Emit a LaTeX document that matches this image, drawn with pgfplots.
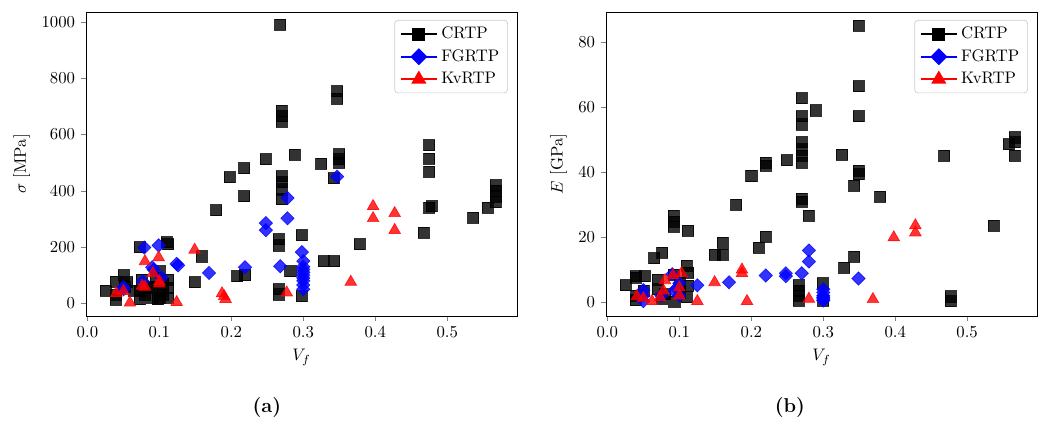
\documentclass[border=0pt]{standalone}
\usepackage{pgfplots}
\pgfplotsset{compat=1.18}
\usetikzlibrary{plotmarks}

\pgfplotsset{
  panel/.style={
    scale only axis, width=9.056cm, height=6.388cm,
    xmin=-0.002, xmax=0.597,
    xtick={0,0.1,0.2,0.3,0.4,0.5},
    xticklabel style={/pgf/number format/fixed, /pgf/number format/fixed zerofill, /pgf/number format/precision=1},
    yticklabel style={/pgf/number format/1000 sep={}},
    tick align=outside, tick pos=left, major tick length=3pt,
    xlabel={$V_f$},
    legend cell align=left,
    legend style={at={(0.979,0.974)}, anchor=north east, draw=black!20, rounded corners=2pt,
      font=\normalsize, row sep=1pt},
    legend image code/.code={\draw[mark repeat=2,mark phase=2,#1] plot coordinates {(0cm,0cm) (0.38cm,0cm) (0.76cm,0cm)};},
  },
  crtp/.style={only marks, mark=square*, mark size=3.3pt, draw=black, fill=black,
    mark options={opacity=0.8}, forget plot},
  fgrtp/.style={only marks, mark=square*, mark size=2.8pt, draw=blue, fill=blue,
    mark options={rotate=45, opacity=0.8}, forget plot},
  kvrtp/.style={only marks, mark=triangle*, mark size=4pt, draw=red, fill=red,
    mark options={opacity=0.8}, forget plot},
}

\begin{document}
\begin{tikzpicture}
% (a) strength
\begin{axis}[panel, name=A, ymin=-45, ymax=1035, ytick={0,200,400,600,800,1000},
  ylabel={$\sigma$ [MPa]}]
\addplot[crtp] coordinates {
(0.025,46) (0.039,78) (0.039,14) (0.040,30) (0.050,100) (0.052,60) (0.055,75) (0.065,45)
(0.073,200) (0.073,43) (0.073,15) (0.075,85) (0.080,30) (0.085,55) (0.09,20) (0.09,60)
(0.095,90) (0.098,15) (0.1,114) (0.1,40) (0.1,20) (0.105,30) (0.11,217) (0.112,210)
(0.112,83) (0.112,21) (0.112,55) (0.105,70)
(0.149,75) (0.159,167) (0.179,331) (0.198,448) (0.218,480) (0.218,381) (0.208,96) (0.219,100)
(0.248,512) (0.268,989) (0.27,685) (0.27,665) (0.27,645) (0.27,452) (0.27,430) (0.27,405)
(0.27,370) (0.266,228) (0.266,206) (0.266,50) (0.266,32) (0.282,114) (0.288,528) (0.298,242)
(0.298,25) (0.325,497) (0.328,150) (0.343,150) (0.342,445) (0.347,754) (0.347,726) (0.35,530)
(0.35,512) (0.35,500) (0.378,210) (0.467,252) (0.475,562) (0.475,515) (0.475,468) (0.475,340)
(0.478,345) (0.536,305) (0.556,340) (0.567,420) (0.567,400) (0.567,380) (0.567,360)
};
\addplot[fgrtp] coordinates {
(0.05,50) (0.05,57) (0.077,78) (0.079,198) (0.09,128) (0.092,120) (0.099,206) (0.103,92)
(0.124,140) (0.126,135) (0.169,108) (0.219,128) (0.248,285) (0.248,260) (0.268,132) (0.278,374)
(0.278,302) (0.298,182) (0.3,150) (0.3,130) (0.3,120) (0.3,110) (0.3,100) (0.3,90) (0.3,80)
(0.3,65) (0.3,50) (0.347,450)
};
\addplot[kvrtp] coordinates {
(0.040,36) (0.05,43) (0.059,2) (0.076,62) (0.08,58) (0.08,149) (0.091,107) (0.099,163)
(0.1,78) (0.1,70) (0.124,4) (0.149,190) (0.187,35) (0.19,25) (0.192,15) (0.277,38)
(0.366,76) (0.397,345) (0.397,302) (0.427,320) (0.427,260)
};
\addlegendimage{black, line width=1.2pt, mark=square*, mark size=3.3pt}
\addlegendentry{CRTP}
\addlegendimage{blue, line width=1.2pt, mark=square*, mark size=3pt, mark options={rotate=45}}
\addlegendentry{FGRTP}
\addlegendimage{red, line width=1.2pt, mark=triangle*, mark size=4pt}
\addlegendentry{KvRTP}
\end{axis}
% (b) modulus
\begin{axis}[panel, name=B, xshift=10.926cm, ymin=-4.25, ymax=89.25, ytick={0,20,40,60,80},
  ylabel={$E$ [GPa]}]
\addplot[crtp] coordinates {
(0.025,5.2) (0.039,7.5) (0.039,8) (0.039,0.6) (0.040,2) (0.052,8) (0.05,3.5) (0.065,13.5)
(0.076,15.3) (0.07,7) (0.07,4) (0.075,1) (0.08,2.5) (0.092,26.5) (0.092,24.7) (0.092,23.3)
(0.092,8.5) (0.093,0.2) (0.1,6) (0.1,3) (0.112,22) (0.11,11.3) (0.112,9) (0.11,1.5) (0.112,5)
(0.149,14.7) (0.16,18.3) (0.16,14.7) (0.179,30) (0.2,38.8) (0.21,16.8) (0.22,43) (0.22,42)
(0.22,20.2) (0.249,43.7) (0.266,5.2) (0.266,3.5) (0.266,2) (0.266,0.5) (0.27,62.7) (0.27,57.2)
(0.27,54.7) (0.27,49.2) (0.27,47) (0.27,45) (0.27,43) (0.27,31.8) (0.27,31) (0.28,26.6)
(0.289,59) (0.299,5.8) (0.3,0.5) (0.326,45.3) (0.329,10.7) (0.343,14) (0.343,35.8) (0.349,85)
(0.349,66.4) (0.349,57.2) (0.349,40.4) (0.349,39.4) (0.379,32.4) (0.468,45) (0.477,1.8)
(0.477,0.3) (0.537,23.6) (0.558,48.6) (0.566,50.7) (0.566,49.2) (0.566,45)
};
\addplot[fgrtp] coordinates {
(0.05,3.7) (0.05,0.3) (0.05,2) (0.075,2) (0.09,8.6) (0.096,4.3) (0.093,3.4) (0.1,5.8)
(0.1,2) (0.125,5.2) (0.169,6.1) (0.22,8.2) (0.248,8.9) (0.248,8) (0.27,8.9) (0.28,15.9)
(0.28,12.5) (0.3,4) (0.3,3) (0.3,2) (0.3,1.5) (0.3,1) (0.3,0.5) (0.349,7.3)
};
\addplot[kvrtp] coordinates {
(0.041,1.8) (0.05,1.2) (0.062,0.3) (0.073,1.5) (0.078,3.5) (0.08,6.7) (0.091,8.3) (0.103,8.9)
(0.1,4.5) (0.1,2) (0.125,0.3) (0.149,6.1) (0.187,10) (0.187,8.9) (0.194,0.3) (0.28,1)
(0.369,0.9) (0.398,19.9) (0.428,23.6) (0.428,21.4)
};
\addlegendimage{black, line width=1.2pt, mark=square*, mark size=3.3pt}
\addlegendentry{CRTP}
\addlegendimage{blue, line width=1.2pt, mark=square*, mark size=3pt, mark options={rotate=45}}
\addlegendentry{FGRTP}
\addlegendimage{red, line width=1.2pt, mark=triangle*, mark size=4pt}
\addlegendentry{KvRTP}
\end{axis}
% panel labels
\node[font=\large\bfseries] at (3.80,-1.933) {(a)};
\node[font=\large\bfseries] at (14.79,-1.933) {(b)};
\pgfresetboundingbox
\path (-1.807,-2.290) rectangle (20.193,6.640);
\end{tikzpicture}
\end{document}
